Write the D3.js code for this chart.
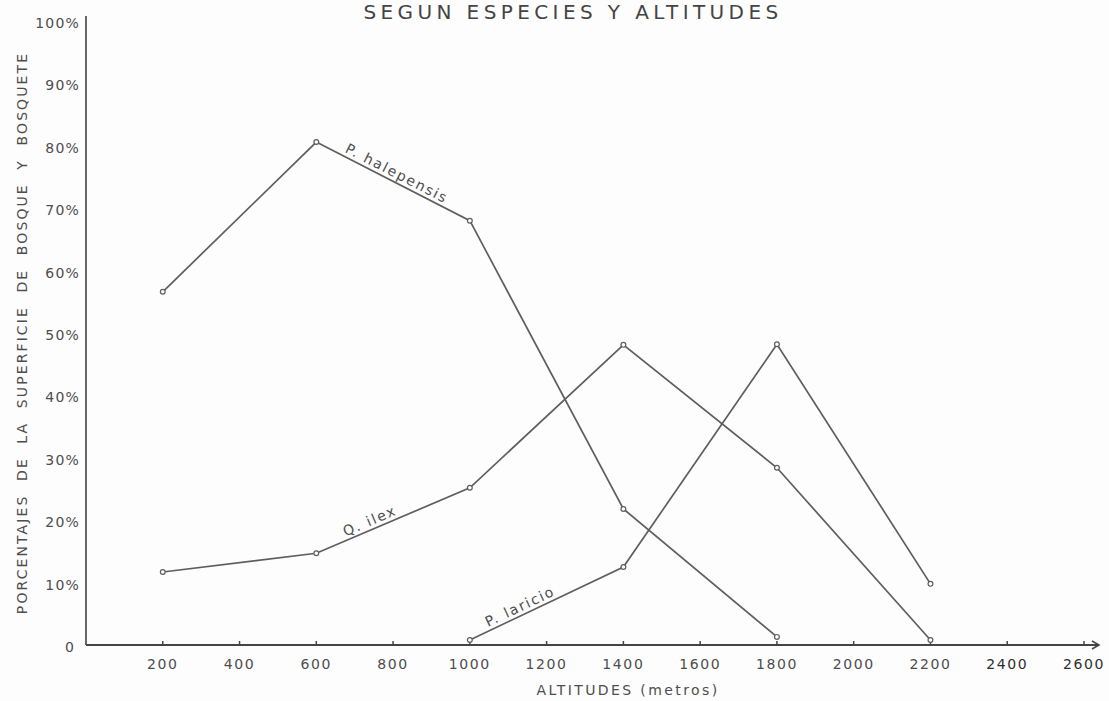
<!DOCTYPE html>
<html>
<head>
<meta charset="utf-8">
<script src="https://cdn.jsdelivr.net/npm/d3@7"></script>
<style>
  body { margin: 0; background: #fdfdfd; }
  svg { display: block; }
  text { font-family: "DejaVu Sans", sans-serif; fill: #4d4d4d; }
</style>
</head>
<body>
<div id="chart"></div>
<script>
var altitudes = [200, 600, 1000, 1400, 1800, 2200];
var halepensis = [56.6, 80.6, 68.0, 21.8, 1.3];
var halepensisAlt = [200, 600, 1000, 1400, 1800];
var ilex = [11.7, 14.7, 25.2, 48.1, 28.4, 0.8];
var ilexAlt = [200, 600, 1000, 1400, 1800, 2200];
var laricio = [0.8, 12.5, 48.2, 9.8];
var laricioAlt = [1000, 1400, 1800, 2200];
var xTicks = [200, 400, 600, 800, 1000, 1200, 1400, 1600, 1800, 2000, 2200, 2400, 2600];
var yTicks = [0, 10, 20, 30, 40, 50, 60, 70, 80, 90, 100];

// where each name sits: segment start index and fraction along it
var seriesLabels = [
  {name: "P. halepensis", alt: halepensisAlt, val: halepensis, seg: 1, t: 0.17},
  {name: "Q. ilex", alt: ilexAlt, val: ilex, seg: 1, t: 0.2},
  {name: "P. laricio", alt: laricioAlt, val: laricio, seg: 0, t: 0.13}
];

var width = 1109, height = 701;
var svg = d3.select("#chart").append("svg")
    .attr("width", width)
    .attr("height", height);

var x = d3.scaleLinear().domain([0, 2600]).range([86, 1084]);
var y = d3.scaleLinear().domain([0, 100]).range([645, 21]);

// title, pushed just inside the top edge
svg.append("text")
    .attr("x", 573)
    .attr("y", 19)
    .attr("text-anchor", "middle")
    .style("font-size", "20px")
    .style("letter-spacing", "4.4px")
    .style("fill", "#444")
    .text("SEGUN ESPECIES Y ALTITUDES");

// axes
svg.append("line")
    .attr("x1", x(0)).attr("x2", x(0))
    .attr("y1", 16).attr("y2", y(0))
    .attr("stroke", "#666").attr("stroke-width", 2);

svg.append("line")
    .attr("x1", x(0)).attr("x2", 1098)
    .attr("y1", y(0)).attr("y2", y(0))
    .attr("stroke", "#444").attr("stroke-width", 2);

svg.append("path")
    .attr("d", "M1092,641 L1099,645 L1092,649")
    .attr("fill", "none")
    .attr("stroke", "#444").attr("stroke-width", 1.5);

svg.selectAll("line.xtick")
    .data(xTicks)
    .enter()
    .append("line")
    .attr("class", "xtick")
    .attr("x1", function(d) { return x(d); })
    .attr("x2", function(d) { return x(d); })
    .attr("y1", y(0))
    .attr("y2", y(0) - 4)
    .attr("stroke", "#444").attr("stroke-width", 1.5);

svg.selectAll("text.xlabel")
    .data(xTicks)
    .enter()
    .append("text")
    .attr("class", "xlabel")
    .attr("x", function(d) { return x(d); })
    .attr("y", 669)
    .attr("text-anchor", "middle")
    .style("font-size", "14px")
    .style("letter-spacing", "1.6px")
    .style("fill", function(d) { return d >= 2400 ? "#2e2e2e" : "#4d4d4d"; })
    .text(function(d) { return d; });

svg.selectAll("text.ylabel")
    .data(yTicks)
    .enter()
    .append("text")
    .attr("class", "ylabel")
    .attr("x", function(d) { return d === 0 ? 75 : 80; })
    .attr("y", function(d) { return y(d) + 7; })
    .attr("text-anchor", "end")
    .style("font-size", "14px")
    .style("letter-spacing", "1.2px")
    .text(function(d) { return d === 0 ? "0" : d + "%"; });

// axis titles
svg.append("text")
    .attr("transform", "translate(27,333) rotate(-90)")
    .attr("text-anchor", "middle")
    .style("font-size", "14px")
    .style("letter-spacing", "2.1px")
    .style("word-spacing", "7px")
    .text("PORCENTAJES DE LA SUPERFICIE DE BOSQUE Y BOSQUETE");

svg.append("text")
    .attr("x", 628)
    .attr("y", 695)
    .attr("text-anchor", "middle")
    .style("font-size", "14px")
    .style("letter-spacing", "2.4px")
    .text("ALTITUDES (metros)");

// lines
var line = d3.line()
    .x(function(d) { return x(d[0]); })
    .y(function(d) { return y(d[1]); });

var series = [
  d3.zip(halepensisAlt, halepensis),
  d3.zip(ilexAlt, ilex),
  d3.zip(laricioAlt, laricio)
];

series.forEach(function(pts) {
  svg.append("path")
      .attr("d", line(pts))
      .attr("fill", "none")
      .attr("stroke", "#5e5e5e")
      .attr("stroke-width", 1.7);

  svg.selectAll(null)
      .data(pts)
      .enter()
      .append("circle")
      .attr("cx", function(d) { return x(d[0]); })
      .attr("cy", function(d) { return y(d[1]); })
      .attr("r", 2.4)
      .attr("fill", "#fff")
      .attr("stroke", "#5e5e5e")
      .attr("stroke-width", 1.2);
});

// series names written along their segments
seriesLabels.forEach(function(s) {
  var x0 = x(s.alt[s.seg]), y0 = y(s.val[s.seg]);
  var x1 = x(s.alt[s.seg + 1]), y1 = y(s.val[s.seg + 1]);
  var angle = Math.atan2(y1 - y0, x1 - x0) * 180 / Math.PI;
  var px = x0 + (x1 - x0) * s.t;
  var py = y0 + (y1 - y0) * s.t;
  svg.append("text")
      .attr("transform", "translate(" + px + "," + py + ") rotate(" + angle + ")")
      .attr("y", -4)
      .style("font-size", "14px")
      .style("letter-spacing", "1.8px")
      .text(s.name);
});
</script>
</body>
</html>
